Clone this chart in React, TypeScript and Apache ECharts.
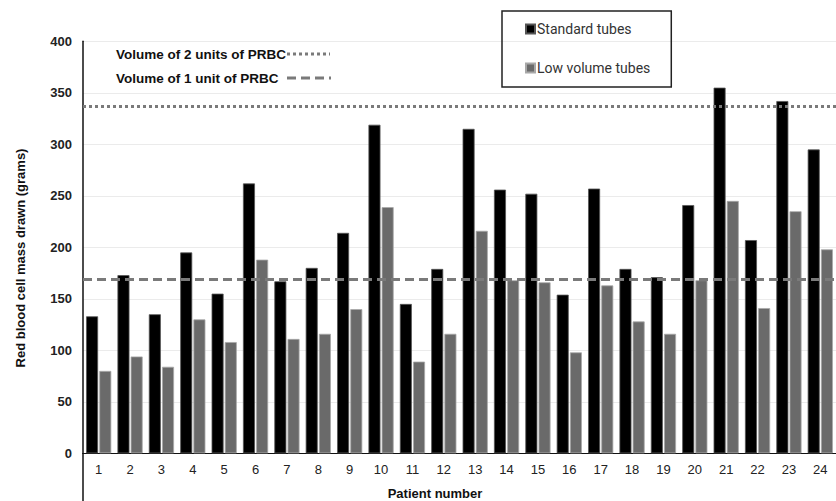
import React, { useEffect, useRef } from "react";
import * as echarts from "echarts";

const patients = ["1","2","3","4","5","6","7","8","9","10","11","12","13","14","15","16","17","18","19","20","21","22","23","24"];
const standardTubes = [133,173,135,195,155,262,167,180,214,319,145,179,315,256,252,154,257,179,171,241,355,207,342,295];
const lowVolumeTubes = [80,94,84,130,108,188,111,116,140,239,89,116,216,168,166,98,163,128,116,168,245,141,235,198];
const twoUnitsPRBC = 337;
const oneUnitPRBC = 168.5;

export default function App() {
  const ref = useRef<HTMLDivElement>(null);
  useEffect(() => {
    if (!ref.current) return;
    const chart = echarts.init(ref.current, null, { renderer: "svg" });
    const font = "Arial, 'Liberation Sans', sans-serif";
    chart.setOption({
      animation: false,
      backgroundColor: "#ffffff",
      grid: { left: 83, top: 41.3, width: 753, height: 412, containLabel: false },
      legend: {
        left: 502,
        top: 11,
        orient: "vertical",
        data: ["Standard tubes", "Low volume tubes"],
        itemWidth: 9,
        itemHeight: 9,
        itemGap: 25,
        padding: [11, 21, 12, 23],
        borderColor: "#222",
        borderWidth: 1.5,
        icon: "rect",
        textStyle: { fontFamily: "Roboto, sans-serif", fontSize: 14, color: "#333", padding: [0, 0, 0, -3] },
      },
      xAxis: {
        type: "category",
        data: patients,
        axisLine: { show: true, lineStyle: { color: "#111", width: 1.2 } },
        axisTick: { show: false },
        axisLabel: { fontFamily: font, fontSize: 13, color: "#222", margin: 10 },
      },
      yAxis: {
        type: "value",
        min: 0,
        max: 400,
        interval: 50,
        axisLine: { show: true, lineStyle: { color: "#111", width: 1.5 } },
        axisTick: { show: false },
        axisLabel: { fontFamily: font, fontSize: 13, fontWeight: "bold", color: "#222", margin: 11 },
        splitLine: { show: true, lineStyle: { color: "#ebebeb", width: 1 } },
      },
      series: [
        {
          name: "Standard tubes",
          type: "bar",
          data: standardTubes,
          barWidth: 12,
          barGap: "10%",
          itemStyle: { color: "#000000", borderColor: "#555", borderWidth: 0.8 },
          markLine: {
            silent: true,
            symbol: "none",
            label: { show: false },
            data: [
              { yAxis: twoUnitsPRBC, lineStyle: { color: "#7a7a7a", width: 3, type: [3, 3] } },
              { yAxis: oneUnitPRBC, lineStyle: { color: "#7a7a7a", width: 3, type: [9, 5] } },
            ],
          },
        },
        {
          name: "Low volume tubes",
          type: "bar",
          data: lowVolumeTubes,
          barWidth: 12,
          itemStyle: { color: "#6a6a6a", borderColor: "#a8a8a8", borderWidth: 0.8 },
        },
      ],
      graphic: [
        { type: "line", shape: { x1: 83, y1: 453, x2: 83, y2: 501 }, style: { stroke: "#111", lineWidth: 1.5 } },
        {
          type: "text", x: 116, y: 54,
          style: { text: "Volume of 2 units of PRBC", font: `bold 13.5px ${font}`, fill: "#111", textVerticalAlign: "middle" },
        },
        { type: "line", shape: { x1: 287, y1: 54, x2: 330, y2: 54 }, style: { stroke: "#7a7a7a", lineWidth: 3, lineDash: [3, 3] } },
        {
          type: "text", x: 116, y: 78,
          style: { text: "Volume of 1 unit of PRBC", font: `bold 13.5px ${font}`, fill: "#111", textVerticalAlign: "middle" },
        },
        { type: "line", shape: { x1: 287, y1: 78, x2: 331, y2: 78 }, style: { stroke: "#7a7a7a", lineWidth: 3, lineDash: [9, 5] } },
        {
          type: "text", x: 435, y: 493,
          style: { text: "Patient number", font: `bold 13px ${font}`, fill: "#111", textAlign: "center", textVerticalAlign: "middle" },
        },
        {
          type: "text", x: 20, y: 258, rotation: Math.PI / 2,
          style: { text: "Red blood cell mass drawn (grams)", font: `bold 13px ${font}`, fill: "#111", textAlign: "center", textVerticalAlign: "middle" },
        },
      ],
    });
    return () => chart.dispose();
  }, []);
  return <div ref={ref} style={{ position: "fixed", left: 0, top: 0, width: 836, height: 501 }} />;
}
